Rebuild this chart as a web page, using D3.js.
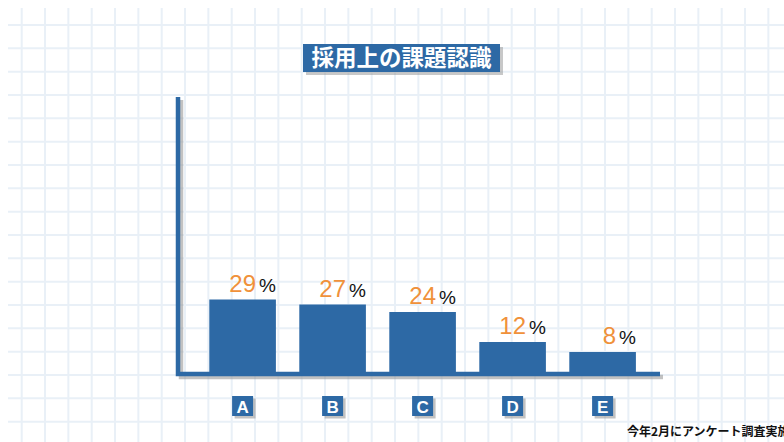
<!DOCTYPE html>
<html><head><meta charset="utf-8">
<script src="https://cdn.jsdelivr.net/npm/d3@7"></script>
<style>html,body{margin:0;padding:0;background:#fff;}svg{display:block;}</style>
</head><body>
<svg id="c" width="784" height="442"></svg>
<script>
const categories = ["A", "B", "C", "D", "E"];
const values = [29, 27, 24, 12, 8];
const title = "採用上の課題認識";
const footnote = "今年2月にアンケート調査実施";

const W = 784, H = 442;
const blue = "#2d69a5", orange = "#f0913a", shadow = "#9a9a9a", gridC = "#e9f0f7";
const svg = d3.select("#c");

// grid
const gridStep = 70 / 3;
const gx = d3.range(21.7, W + 1, gridStep);
const gy = d3.range(25, H + 1, gridStep);
svg.append("g").selectAll("line").data(gx).join("line")
  .attr("x1", d => d).attr("x2", d => d).attr("y1", 8).attr("y2", H)
  .attr("stroke", gridC).attr("stroke-width", 2);
svg.append("g").selectAll("line").data(gy).join("line")
  .attr("y1", d => d).attr("y2", d => d).attr("x1", 8).attr("x2", W)
  .attr("stroke", gridC).attr("stroke-width", 2);

const x = d3.scaleBand().domain(categories).range([197.6, 647.6]).paddingInner(0.26).paddingOuter(0.13);
const y = d3.scaleLinear().domain([0, 110]).range([372, 97]);

// axes (shadow + line)
const axisG = svg.append("g");
const axTop = y(110), axBottom = 374, axLeft = 178, axRight = 660;
axisG.append("path").attr("d", `M${axLeft+3},${axTop+3}V${axBottom+3}H${axRight+3}`)
  .attr("fill", "none").attr("stroke", shadow).attr("stroke-opacity", 0.6).attr("stroke-width", 4.5);
axisG.append("path").attr("d", `M${axLeft},${axTop}V${axBottom}H${axRight}`)
  .attr("fill", "none").attr("stroke", blue).attr("stroke-width", 4.5).attr("stroke-linejoin", "miter");

// bars
svg.append("g").selectAll("rect").data(values).join("rect")
  .attr("x", (d, i) => x(categories[i]))
  .attr("width", x.bandwidth())
  .attr("y", d => y(d))
  .attr("height", d => y(0) - y(d))
  .attr("fill", blue);

// value labels
const lab = svg.append("g").selectAll("text").data(values).join("text")
  .attr("x", (d, i) => x(categories[i]) + x.bandwidth())
  .attr("y", d => y(d) - 8)
  .attr("text-anchor", "end")
  .attr("font-family", "Liberation Sans, Arial, sans-serif");
lab.append("tspan").text(d => d).attr("fill", orange).attr("font-size", 24);
lab.append("tspan").text("%").attr("fill", "#111").attr("font-size", 19).attr("dx", 3);

// category boxes
const cg = svg.append("g").selectAll("g").data(categories).join("g")
  .attr("transform", d => `translate(${x(d) + x.bandwidth() / 2},406)`);
cg.append("rect").attr("x", -10.5 + 2.5).attr("y", -10 + 2.5).attr("width", 21).attr("height", 20)
  .attr("fill", shadow).attr("opacity", 0.6);
cg.append("rect").attr("x", -10.5).attr("y", -10).attr("width", 21).attr("height", 20).attr("fill", blue);
cg.append("text").text(d => d).attr("text-anchor", "middle").attr("y", 6.5)
  .attr("fill", "#fff").attr("font-size", 17).attr("font-weight", "bold")
  .attr("font-family", "Liberation Sans, Arial, sans-serif");

// title
const tg = svg.append("g");
tg.append("rect").attr("x", 306).attr("y", 47).attr("width", 197).attr("height", 28).attr("fill", shadow).attr("opacity", 0.55);
tg.append("rect").attr("x", 303).attr("y", 44).attr("width", 197).attr("height", 28).attr("fill", blue);
tg.append("text").text(title).attr("x", 401.5).attr("y", 66).attr("text-anchor", "middle")
  .attr("fill", "#fff").attr("font-size", 22.5).attr("font-weight", "bold")
  .attr("font-family", "Noto Sans CJK JP, sans-serif");

// footnote (cut at the right edge, as in the reference)
svg.append("text").text(footnote).attr("x", 627).attr("y", 436)
  .attr("font-size", 12).attr("font-weight", "bold").attr("fill", "#111")
  .attr("font-family", "Noto Sans CJK JP, sans-serif");
</script>
</body></html>
